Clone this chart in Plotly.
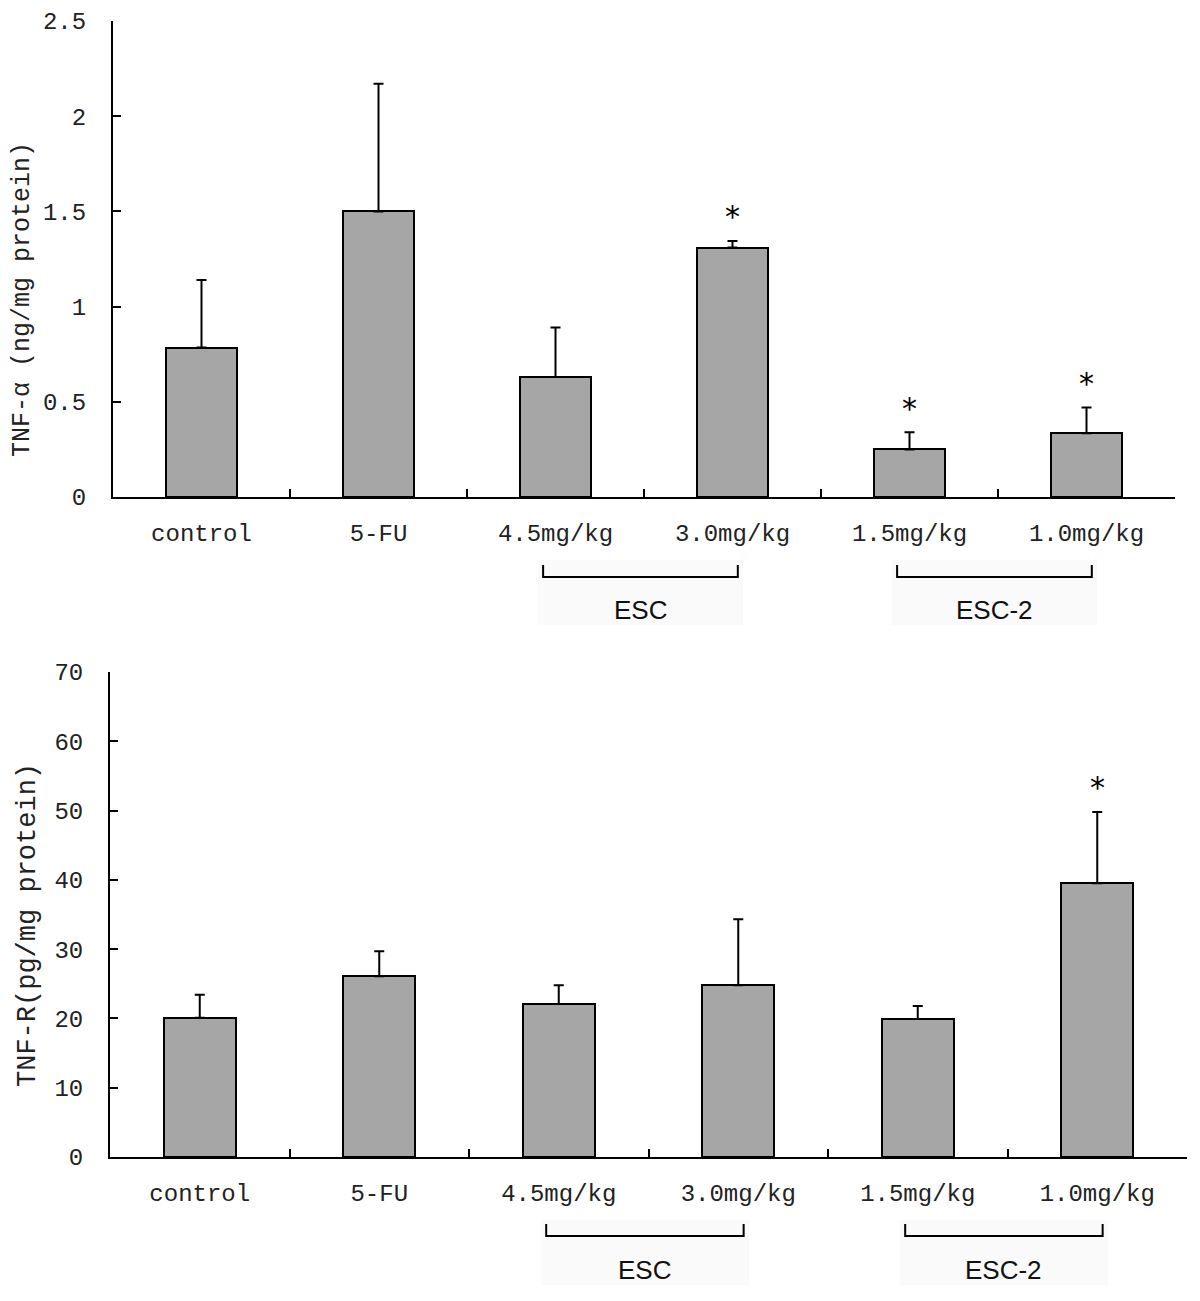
import plotly.graph_objects as go

categories = ["control", "5-FU", "4.5mg/kg", "3.0mg/kg", "1.5mg/kg", "1.0mg/kg"]

tnfa_mean = [0.785, 1.50, 0.63, 1.31, 0.25, 0.335]
tnfa_err = [0.355, 0.67, 0.26, 0.035, 0.09, 0.135]
tnfa_sig = [False, False, False, True, True, True]

tnfr_mean = [20.1, 26.1, 22.1, 24.8, 19.9, 39.5]
tnfr_err = [3.3, 3.6, 2.7, 9.5, 1.9, 10.3]
tnfr_sig = [False, False, False, False, False, True]

ytick_top = [0, 0.5, 1, 1.5, 2, 2.5]
ytick_bot = [0, 10, 20, 30, 40, 50, 60, 70]

groups = [("ESC", 2, 3), ("ESC-2", 4, 5)]

W, H = 1200, 1301
OFF = 8  # page body margin offset
MONO = "Liberation Mono"
SANS = "Liberation Sans"

def py(p):
    return 1 - (p - OFF) / H

def px(p):
    return (p - OFF) / W

xs = list(range(len(categories)))
bounds = [i + 0.5 for i in xs]

fig = go.Figure()

panels = [
    dict(mean=tnfa_mean, err=tnfa_err, sig=tnfa_sig, yticks=ytick_top, yr=[0, 2.5],
         xdom=[px(113), px(1175)], ydom=[py(497), py(21)], title="TNF-α (ng/mg protein)",
         title_x=22, title_y=300, title_size=25, ax="", lab_ax="3",
         bracket_y=577, text_y=610, rect=(560, 625)),
    dict(mean=tnfr_mean, err=tnfr_err, sig=tnfr_sig, yticks=ytick_bot, yr=[0, 70],
         xdom=[px(110), px(1187)], ydom=[py(1157), py(672)], title="TNF-R(pg/mg protein)",
         title_x=28, title_y=925, title_size=27, ax="2", lab_ax="4",
         bracket_y=1236, text_y=1270, rect=(1220, 1285)),
]

for k, p in enumerate(panels):
    xa = "x" + p["ax"]
    ya = "y" + p["ax"]
    fig.add_trace(go.Bar(
        x=xs, y=p["mean"], width=0.4,
        marker=dict(color="#a6a6a6", line=dict(color="black", width=2)),
        error_y=dict(type="data", array=p["err"], arrayminus=[0] * len(xs), symmetric=False,
                     color="black", thickness=2, width=5),
        xaxis=xa, yaxis=ya, showlegend=False,
    ))
    fig.add_trace(go.Scatter(x=xs, y=p["mean"], mode="markers", marker=dict(opacity=0),
                             xaxis="x" + p["lab_ax"], yaxis=ya, showlegend=False, hoverinfo="skip"))

    axis_common = dict(showline=True, linecolor="black", linewidth=2, showgrid=False,
                       zeroline=False, automargin=False)
    fig.layout["xaxis" + p["ax"]] = dict(
        domain=p["xdom"], range=[-0.5, 5.5], anchor=ya, tickvals=bounds, showticklabels=False,
        ticks="inside", ticklen=8, tickwidth=2, tickcolor="black", **axis_common)
    fig.layout["xaxis" + p["lab_ax"]] = dict(
        domain=p["xdom"], range=[-0.5, 5.5], anchor=ya, overlaying=xa, tickvals=xs,
        ticktext=categories, ticks="", showline=False, showgrid=False, zeroline=False,
        automargin=False,
        tickfont=dict(family=MONO, size=24, color="#222"), ticklabelstandoff=19)
    fig.layout["yaxis" + p["ax"]] = dict(
        domain=p["ydom"], range=p["yr"], anchor=xa, tickvals=p["yticks"],
        ticks="inside", ticklen=8, tickwidth=2, tickcolor="black", ticklabeloverflow="allow",
        tickfont=dict(family=MONO, size=24, color="#222"), ticklabelstandoff=20, **axis_common)

    fig.add_annotation(text=p["title"], xref="paper", yref="paper", x=px(p["title_x"]),
                       y=py(p["title_y"]), textangle=-90, showarrow=False,
                       font=dict(family=MONO, size=p["title_size"], color="#222"),
                       xanchor="center", yanchor="middle")

    for i, s in enumerate(p["sig"]):
        if s:
            fig.add_annotation(text="*", x=xs[i], y=p["mean"][i] + p["err"][i], xref=xa, yref=ya,
                               showarrow=False, yanchor="middle", yshift=24,
                               font=dict(family="DejaVu Sans", size=30, color="black"))

    for name, a, b in groups:
        x1, x2 = a - 0.07, b + 0.03
        fig.add_shape(type="rect", xref=xa, yref="paper", x0=x1 - 0.03, x1=x2 + 0.03,
                      y0=py(p["rect"][1]), y1=py(p["rect"][0]), fillcolor="#fafafa",
                      line=dict(width=0), layer="below")
        yb = py(p["bracket_y"])
        yt = py(p["bracket_y"] - 12)
        fig.add_shape(type="path", xref=xa, yref="paper",
                      path=f"M {x1},{yt} L {x1},{yb} L {x2},{yb} L {x2},{yt}",
                      line=dict(color="black", width=2))
        fig.add_annotation(text=name, xref=xa, yref="paper", x=(x1 + x2) / 2, y=py(p["text_y"]),
                           showarrow=False, font=dict(family=SANS, size=26, color="#111"),
                           xanchor="center", yanchor="middle")

fig.update_layout(width=W, height=H, margin=dict(l=0, r=0, t=0, b=0),
                  plot_bgcolor="white", paper_bgcolor="white", bargap=0)

fig.write_html("out.html")
